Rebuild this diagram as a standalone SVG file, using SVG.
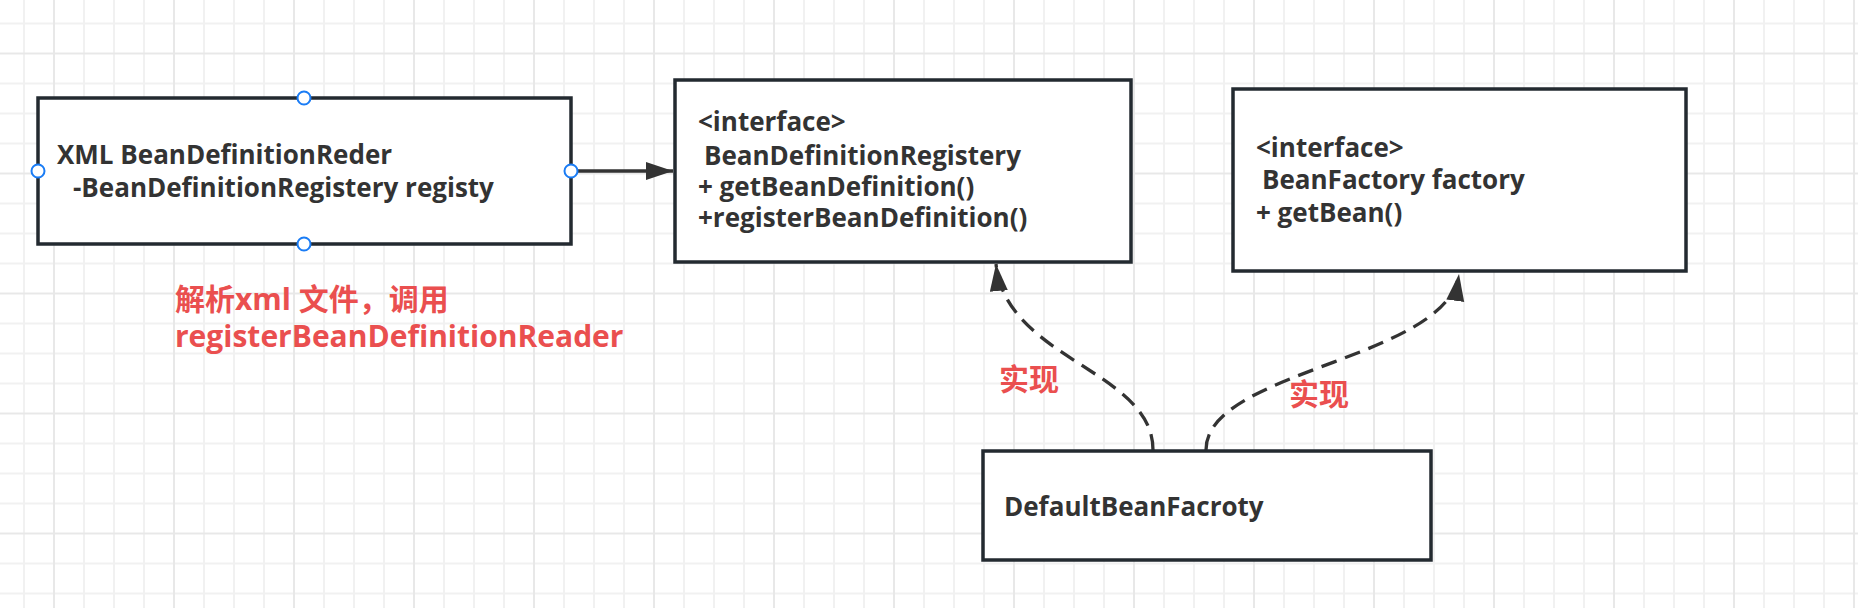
<svg xmlns="http://www.w3.org/2000/svg" width="1858" height="608" viewBox="0 0 1858 608">
<style>
.box{fill:#fff;stroke:#232a30;stroke-width:3.5}
.t{font-family:"Open Sans","Noto Sans CJK SC",sans-serif;font-weight:700;font-size:26px;fill:#333}
.red{font-family:"Open Sans","Noto Sans CJK SC",sans-serif;font-weight:700;font-size:30px;fill:#ea4f4f}
.conn{fill:none;stroke:#333;stroke-width:3.3}
.dash{stroke-dasharray:16 9}
.port{fill:#fff;stroke:#1a7cf5;stroke-width:2}
</style>
<defs>
<pattern id="grid" patternUnits="userSpaceOnUse" x="39" y="38.5" width="120" height="120">
<rect x="44" y="0" width="2" height="120" fill="#f1f1f1"/>
<rect x="74" y="0" width="2" height="120" fill="#f1f1f1"/>
<rect x="104" y="0" width="2" height="120" fill="#f1f1f1"/>
<rect x="0" y="44" width="120" height="2" fill="#f1f1f1"/>
<rect x="0" y="74" width="120" height="2" fill="#f1f1f1"/>
<rect x="0" y="104" width="120" height="2" fill="#f1f1f1"/>
<rect x="14" y="0" width="2" height="120" fill="#e8e8e8"/>
<rect x="0" y="14" width="120" height="2" fill="#e8e8e8"/>
</pattern>
<marker id="ah" markerUnits="userSpaceOnUse" markerWidth="30" markerHeight="20" refX="27" refY="9" orient="auto">
<path d="M0,0 L27,9 L0,18 Z" fill="#333"/>
</marker>
</defs>
<rect width="1858" height="608" fill="#fff"/>
<rect width="1858" height="608" fill="url(#grid)"/>

<g id="connectors">
<path class="conn" d="M571,171 L673,171" marker-end="url(#ah)"/>
<path class="conn dash" d="M1153,450 C1153,370 1006,360 996,264" marker-end="url(#ah)"/>
<path class="conn dash" d="M1206,450 C1206,370 1447,360 1459,274" marker-end="url(#ah)"/>
</g>

<g id="node-reader">
<rect class="box" x="38" y="98" width="533" height="146"/>
<text class="t" x="57" y="164">XML BeanDefinitionReder</text>
<text class="t" x="73" y="197">-BeanDefinitionRegistery registy</text>
<circle class="port" cx="304" cy="98" r="6.5"/>
<circle class="port" cx="304" cy="244" r="6.5"/>
<circle class="port" cx="38" cy="171" r="6.5"/>
<circle class="port" cx="571" cy="171" r="6.5"/>
</g>

<g id="node-registry">
<rect class="box" x="675" y="80" width="456" height="182"/>
<text class="t" x="698" y="131">&lt;interface&gt;</text>
<text class="t" x="704" y="165">BeanDefinitionRegistery</text>
<text class="t" x="698" y="196">+ getBeanDefinition()</text>
<text class="t" x="698" y="227">+registerBeanDefinition()</text>
</g>

<g id="node-factory">
<rect class="box" x="1233" y="89" width="453" height="182"/>
<text class="t" x="1256" y="157">&lt;interface&gt;</text>
<text class="t" x="1262" y="189">BeanFactory factory</text>
<text class="t" x="1256" y="222">+ getBean()</text>
</g>

<g id="node-default">
<rect class="box" x="983" y="451" width="448" height="109"/>
<text class="t" x="1004" y="516">DefaultBeanFacroty</text>
</g>

<g id="labels">
<text class="red" x="175" y="310">解析xml 文件，调用</text>
<text class="red" x="175" y="347">registerBeanDefinitionReader</text>
<text class="red" x="999" y="390">实现</text>
<text class="red" x="1289" y="405">实现</text>
</g>
</svg>
